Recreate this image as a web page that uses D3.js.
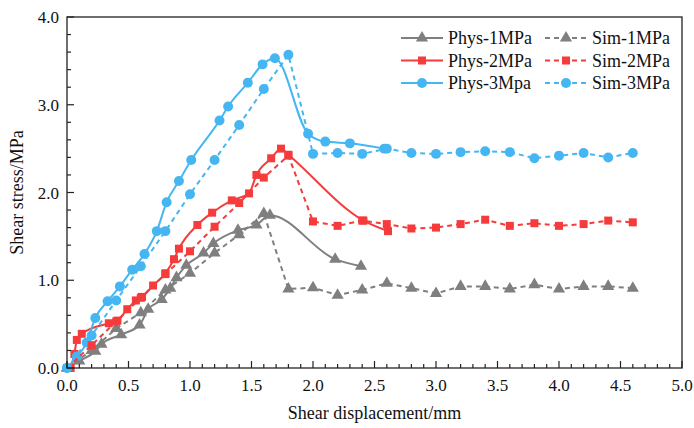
<!DOCTYPE html>
<html>
<head>
<meta charset="utf-8">
<script src="https://cdn.jsdelivr.net/npm/d3@7"></script>
<style>
  html, body { margin: 0; padding: 0; background: #fff; }
  svg { display: block; font-family: "Liberation Serif", "Times New Roman", serif; }
</style>
</head>
<body>
<svg id="chart" width="694" height="428"></svg>
<script>
// ---- data ----
const simX   = [0, 0.2, 0.4, 0.6, 0.8, 1.0, 1.2, 1.4, 1.6, 1.8, 2.0, 2.2, 2.4, 2.6, 2.8, 3.0, 3.2, 3.4, 3.6, 3.8, 4.0, 4.2, 4.4, 4.6];
const sim1Y  = [0, 0.2, 0.45, 0.63, 0.89, 1.08, 1.31, 1.52, 1.76, 0.90, 0.915, 0.83, 0.89, 0.965, 0.91, 0.85, 0.93, 0.93, 0.90, 0.95, 0.90, 0.93, 0.93, 0.91];
const sim2Y  = [0, 0.26, 0.53, 0.80, 1.07, 1.33, 1.61, 1.88, 2.17, 2.42, 1.67, 1.62, 1.68, 1.64, 1.59, 1.60, 1.64, 1.69, 1.62, 1.65, 1.62, 1.64, 1.68, 1.66];
const sim3Y  = [0, 0.37, 0.77, 1.16, 1.56, 1.98, 2.37, 2.77, 3.18, 3.57, 2.44, 2.45, 2.44, 2.50, 2.45, 2.44, 2.46, 2.47, 2.46, 2.39, 2.42, 2.45, 2.40, 2.45];

const phys1X = [0, 0.1, 0.23, 0.28, 0.44, 0.59, 0.66, 0.77, 0.84, 0.89, 0.97, 1.11, 1.19, 1.39, 1.54, 1.65, 2.18, 2.39];
const phys1Y = [0, 0.08, 0.19, 0.27, 0.38, 0.49, 0.67, 0.78, 0.91, 1.03, 1.17, 1.31, 1.42, 1.57, 1.63, 1.74, 1.24, 1.16];
const phys2X = [0.03, 0.06, 0.08, 0.12, 0.34, 0.41, 0.49, 0.56, 0.61, 0.70, 0.80, 0.87, 0.91, 1.06, 1.18, 1.34, 1.48, 1.54, 1.66, 1.74, 1.80, 2.41, 2.61];
const phys2Y = [0, 0.16, 0.32, 0.39, 0.51, 0.54, 0.67, 0.77, 0.81, 0.94, 1.08, 1.24, 1.36, 1.63, 1.77, 1.91, 1.99, 2.20, 2.39, 2.50, 2.43, 1.68, 1.56];
const phys3X = [0, 0.08, 0.16, 0.23, 0.33, 0.43, 0.53, 0.63, 0.73, 0.81, 0.91, 1.01, 1.24, 1.31, 1.47, 1.59, 1.69, 1.96, 2.10, 2.30, 2.58];
const phys3Y = [0, 0.13, 0.29, 0.57, 0.76, 0.93, 1.12, 1.30, 1.56, 1.89, 2.13, 2.37, 2.82, 2.98, 3.25, 3.46, 3.53, 2.67, 2.58, 2.56, 2.50];

const xTicks = [0, 0.5, 1.0, 1.5, 2.0, 2.5, 3.0, 3.5, 4.0, 4.5, 5.0];
const yTicks = [0, 1, 2, 3, 4];

const GRAY = '#7f7f7f', RED = '#f53b3b', BLUE = '#45b6f2';

const series = [
  { name: 'Phys-1MPa', xs: phys1X, ys: phys1Y, color: GRAY, dash: null,  sym: 'tri',  smooth: true },
  { name: 'Phys-2MPa', xs: phys2X, ys: phys2Y, color: RED,  dash: null,  sym: 'sq',   smooth: true },
  { name: 'Phys-3Mpa', xs: phys3X, ys: phys3Y, color: BLUE, dash: null,  sym: 'circ', smooth: true },
  { name: 'Sim-1MPa',  xs: simX,   ys: sim1Y,  color: GRAY, dash: '5,4', sym: 'tri',  smooth: false },
  { name: 'Sim-2MPa',  xs: simX,   ys: sim2Y,  color: RED,  dash: '5,4', sym: 'sq',   smooth: false },
  { name: 'Sim-3MPa',  xs: simX,   ys: sim3Y,  color: BLUE, dash: '5,4', sym: 'circ', smooth: false },
];

// ---- layout ----
const svg = d3.select('#chart');
const m = { l: 67, t: 17, r: 12, b: 60 };
const W = 694, H = 428;
const x = d3.scaleLinear().domain([0, 5]).range([m.l, W - m.r]);
const y = d3.scaleLinear().domain([0, 4]).range([H - m.b, m.t]);

const symbolFor = s => s === 'tri' ? d3.symbol(d3.symbolTriangle, 64)
                  : s === 'sq' ? d3.symbol(d3.symbolSquare, 64)
                  : d3.symbol(d3.symbolCircle, 78);

// series lines + markers
const plot = svg.append('g');
series.forEach(s => {
  const pts = s.xs.map((v, i) => [v, s.ys[i]]);
  const line = d3.line().x(d => x(d[0])).y(d => y(d[1]))
    .curve(s.smooth ? d3.curveMonotoneX : d3.curveLinear);
  plot.append('path').datum(pts)
    .attr('fill', 'none').attr('stroke', s.color).attr('stroke-width', 2)
    .attr('stroke-dasharray', s.dash)
    .attr('d', line);
  plot.append('g').selectAll('path').data(pts).join('path')
    .attr('transform', d => `translate(${x(d[0])},${y(d[1])})`)
    .attr('d', symbolFor(s.sym)())
    .attr('fill', s.color);
});

// frame
svg.append('rect')
  .attr('x', x(0)).attr('y', y(4))
  .attr('width', x(5) - x(0)).attr('height', y(0) - y(4))
  .attr('fill', 'none').attr('stroke', '#222').attr('stroke-width', 1.3);

// axes (ticks inward)
const xMinor = d3.range(0, 5.0001, 0.1);
const yMinor = d3.range(0, 4.0001, 0.2);
const ax = svg.append('g').attr('stroke', '#222').attr('stroke-width', 1.2);
ax.selectAll('.xm').data(xMinor).join('line')
  .attr('x1', d => x(d)).attr('x2', d => x(d))
  .attr('y1', y(0)).attr('y2', d => y(0) - (Math.abs(d * 2 - Math.round(d * 2)) < 1e-6 ? 7 : 4));
ax.selectAll('.ym').data(yMinor).join('line')
  .attr('y1', d => y(d)).attr('y2', d => y(d))
  .attr('x1', x(0)).attr('x2', d => x(0) + (Math.abs(d - Math.round(d)) < 1e-6 ? 7 : 4));

svg.append('g').selectAll('text').data(xTicks).join('text')
  .attr('x', d => x(d)).attr('y', y(0) + 23)
  .attr('text-anchor', 'middle').attr('font-size', 17).attr('fill', '#111')
  .text(d => d.toFixed(1));
svg.append('g').selectAll('text').data(yTicks).join('text')
  .attr('x', x(0) - 8).attr('y', d => y(d) + 6)
  .attr('text-anchor', 'end').attr('font-size', 17).attr('fill', '#111')
  .text(d => d.toFixed(1));

svg.append('text')
  .attr('x', (x(0) + x(5)) / 2).attr('y', 419)
  .attr('text-anchor', 'middle').attr('font-size', 18).attr('fill', '#111')
  .text('Shear displacement/mm');
svg.append('text')
  .attr('transform', `translate(23,${(y(0) + y(4)) / 2}) rotate(-90)`)
  .attr('text-anchor', 'middle').attr('font-size', 18).attr('fill', '#111')
  .text('Shear stress/MPa');

// legend
const leg = svg.append('g');
series.forEach((s, i) => {
  const col = i < 3 ? 0 : 1, row = i % 3;
  const lx = col === 0 ? 401 : 545, ly = 38 + row * 22.5;
  const g = leg.append('g').attr('transform', `translate(${lx},${ly})`);
  g.append('line').attr('x1', 0).attr('x2', 42).attr('y1', 0).attr('y2', 0)
    .attr('stroke', s.color).attr('stroke-width', 2).attr('stroke-dasharray', s.dash);
  g.append('path').attr('transform', 'translate(21,0)').attr('d', symbolFor(s.sym)()).attr('fill', s.color);
  g.append('text').attr('x', 47).attr('y', 6).attr('font-size', 18).attr('fill', '#111').text(s.name);
});
</script>
</body>
</html>
